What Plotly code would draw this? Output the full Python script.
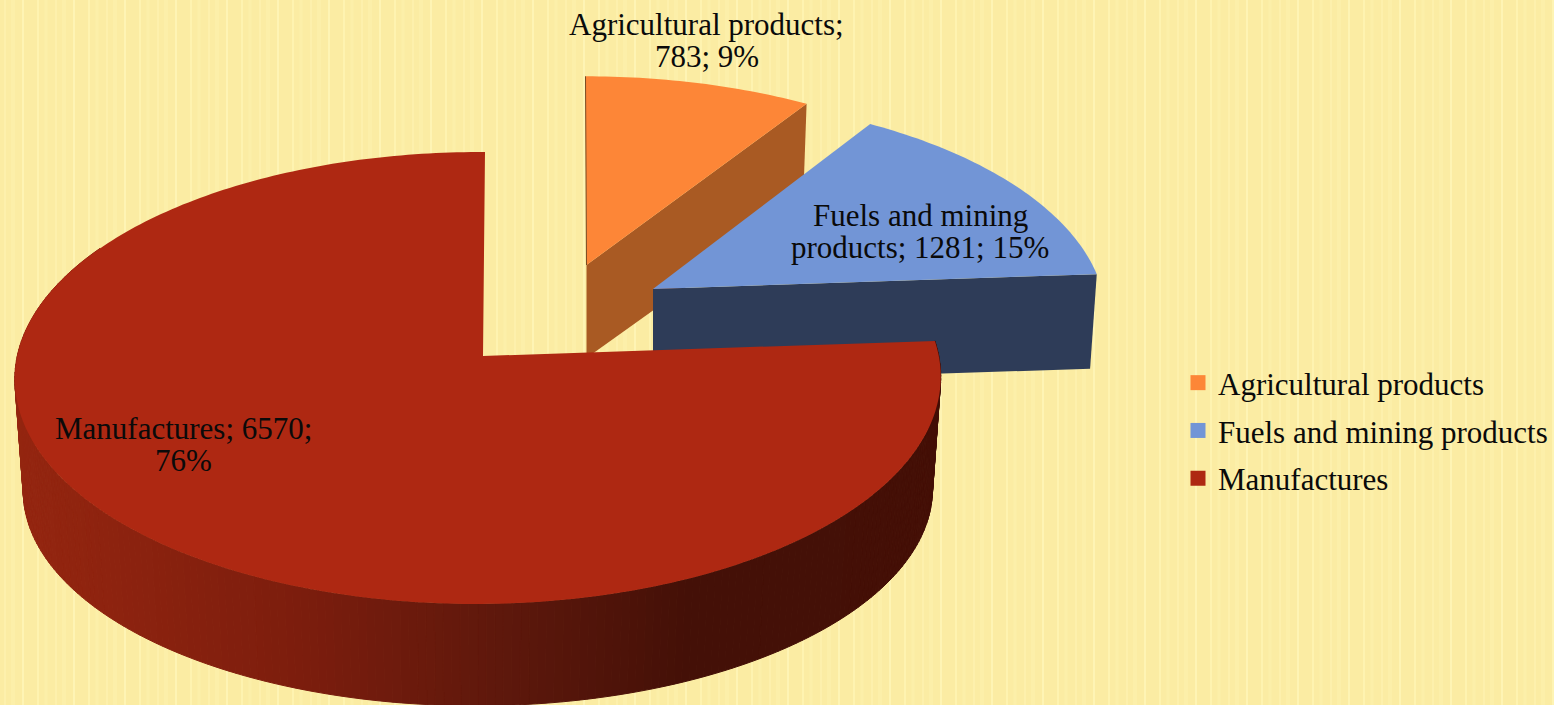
import math
import plotly.graph_objects as go

# ---- data ----
categories = ["Agricultural products", "Fuels and mining products", "Manufactures"]
values = [783, 1281, 6570]
percent_labels = ["9%", "15%", "76%"]

# ---- styles ----
top_colors = ["#FD8637", "#7295D6", "#AE2812"]
cut_colors = ["#A95A23", "#2E3C58", "#AE2812"]
BG = "#FBECA3"
FONT = "Liberation Serif"
FS = 31

# projection of each exploded slice: apex, radii, perspective, thickness
PROJ = [
    dict(ax=586.5, ay=265, R=443, Q=207, k=0.097, m=0.0, sh=-1, depth=93, sr=0.984, sq=0.96),
    dict(ax=653, ay=289, R=449, Q=218.5, k=0.137, m=0.0, sh=0, depth=94, sr=0.985, sq=0.96),
    dict(ax=483, ay=356, R=460.7, Q=223.8, k=0.0973, m=0.0108, sh=2, depth=113, sr=0.982, sq=0.955),
]

# shading of the outer wall of the largest slice, by horizontal position
wall_x = [0, 100, 300, 500, 690, 1000]
wall_rgb = [(0x95, 0x26, 0x10), (0x8E, 0x23, 0x0F), (0x7C, 0x1D, 0x0D), (0x5E, 0x18, 0x0C), (0x44, 0x10, 0x07), (0x44, 0x0F, 0x06)]


def project(p, theta, r=1.0, lower=False):
    X, Y = r * math.sin(theta), r * math.cos(theta)
    s = 1.0 / (1.0 + p["k"] * Y + p["m"] * X)
    R = p["R"] * (p["sr"] if lower else 1.0)
    Q = p["Q"] * (p["sq"] if lower else 1.0)
    x = p["ax"] + R * X * s + p["sh"] * Y
    y = p["ay"] - Q * Y * s + (p["depth"] if lower else 0.0)
    return x, y


def wall_color(x):
    for i in range(len(wall_x) - 1):
        if x <= wall_x[i + 1]:
            t = max(0.0, (x - wall_x[i]) / (wall_x[i + 1] - wall_x[i]))
            a, b = wall_rgb[i], wall_rgb[i + 1]
            return "rgb(%d,%d,%d)" % tuple(round(a[j] + (b[j] - a[j]) * t) for j in range(3))
    return "rgb(%d,%d,%d)" % wall_rgb[-1]


def poly(xs, ys, color, line=0.0):
    return go.Scatter(x=xs + xs[:1], y=ys + ys[:1], mode="lines", fill="toself", fillcolor=color,
                      line=dict(color=color, width=line, simplify=False), hoverinfo="skip", showlegend=False)


total = sum(values)
angles = [0.0]
for v in values:
    angles.append(angles[-1] + 2 * math.pi * v / total)

fig = go.Figure()


def add_cut(i, theta):
    p = PROJ[i]
    a = project(p, theta, 0.0)
    b = project(p, theta)
    c = project(p, theta, lower=True)
    d = project(p, theta, 0.0, lower=True)
    fig.add_trace(poly([a[0], b[0], c[0], d[0]], [a[1], b[1], c[1], d[1]], cut_colors[i]))


def add_top(i):
    p = PROJ[i]
    n = max(12, int((angles[i + 1] - angles[i]) * 60))
    xs, ys = [p["ax"]], [p["ay"]]
    for j in range(n + 1):
        x, y = project(p, angles[i] + (angles[i + 1] - angles[i]) * j / n)
        xs.append(x)
        ys.append(y)
    fig.add_trace(poly(xs, ys, top_colors[i]))


# orange slice
add_cut(0, angles[1])
add_top(0)
a0 = project(PROJ[0], 0.0, 0.0)
b0 = project(PROJ[0], 0.0)
fig.add_trace(go.Scatter(x=[a0[0], b0[0]], y=[a0[1], b0[1]], mode="lines",
                         line=dict(color="#7A4A22", width=1), hoverinfo="skip", showlegend=False))
# blue slice
add_cut(1, angles[2])
add_top(1)
# red slice: outer wall (only the part facing the viewer) then top
p = PROJ[2]
steps = 220
wall_end = math.radians(300)
for j in range(steps):
    t0 = angles[2] + (wall_end - angles[2]) * j / steps
    t1 = angles[2] + (wall_end - angles[2]) * (j + 1) / steps
    a, b = project(p, t0), project(p, t1)
    c, d = project(p, t1, lower=True), project(p, t0, lower=True)
    col = wall_color((a[0] + b[0]) / 2)
    fig.add_trace(poly([a[0], b[0], c[0], d[0]], [a[1], b[1], c[1], d[1]], col, 1.0))
add_top(2)

# legend entries
for i, name in enumerate(categories):
    fig.add_trace(go.Scatter(x=[None], y=[None], mode="markers", name=name, legendgroup=name,
                             marker=dict(symbol="square", size=15, color=top_colors[i]), hoverinfo="skip"))

# data labels
label_lines = [
    [f"{categories[0]};", f"{values[0]}; {percent_labels[0]}"],
    ["Fuels and mining", f"products; {values[1]}; {percent_labels[1]}"],
    [f"{categories[2]}; {values[2]};", percent_labels[2]],
]
label_pos = [(706.5, 24, 56), (920, 215, 247), (183, 428, 460)]
annotations = []
for lines, (lx, y1, y2) in zip(label_lines, label_pos):
    for txt, ly in zip(lines, (y1, y2)):
        annotations.append(dict(x=lx, y=ly, text=txt, showarrow=False, xanchor="center", yanchor="middle",
                                font=dict(family=FONT, size=FS, color="#0A0A0A")))


# faint repeating vertical stripes of the background texture
def stripes(offset):
    return "".join(f"M {x} 0 L {x} 705 " for x in range(offset, 1554, 51))


texture = [
    dict(type="path", path=stripes(off), layer="below", xref="x", yref="y",
         line=dict(color=col, width=wid))
    for off, col, wid in [(23, "#FEF4B4", 2), (38, "#FEF3B0", 2), (5, "#FDF0AC", 2), (13, "#FCEFA9", 4), (46, "#FCEFA9", 3)]
]

fig.update_layout(
    width=1554, height=705, paper_bgcolor=BG, plot_bgcolor=BG,
    margin=dict(l=0, r=0, t=0, b=0, pad=0, autoexpand=False),
    xaxis=dict(range=[0, 1554], visible=False, fixedrange=True),
    yaxis=dict(range=[705, 0], visible=False, fixedrange=True),
    annotations=annotations,
    shapes=texture,
    showlegend=True,
    legend=dict(x=1178 / 1554, y=1 - 356 / 705, xanchor="left", yanchor="top", bgcolor="rgba(0,0,0,0)",
                font=dict(family=FONT, size=FS, color="#0A0A0A"), tracegroupgap=4.5, traceorder="grouped"),
)
fig.write_html("out.html", post_script="document.body.style.margin='0';document.body.style.overflow='hidden';",
               config=dict(displayModeBar=False))
